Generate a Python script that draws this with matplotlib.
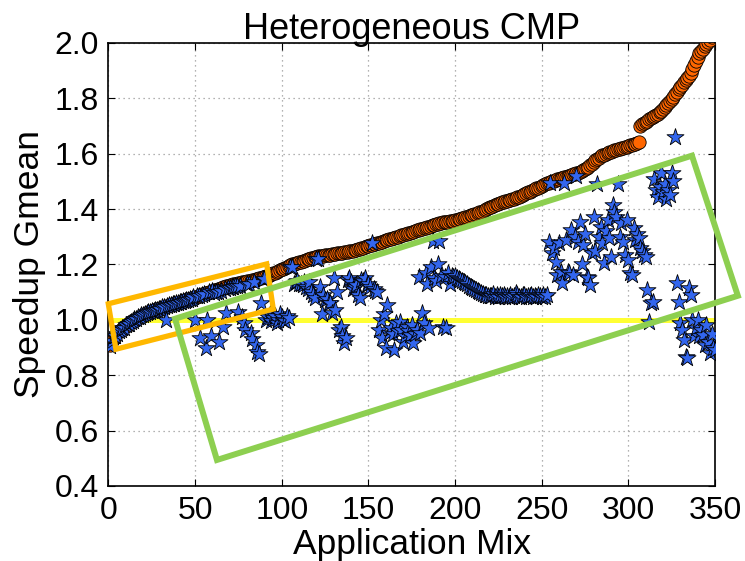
import matplotlib
matplotlib.use('Agg')
import matplotlib.pyplot as plt
from matplotlib.patches import Polygon

plt.rcParams['font.family'] = ['Liberation Sans', 'DejaVu Sans']

# ---------------- data ----------------
mix_index = list(range(1, 351))

# sorted speedup (orange circles)
speedup_sorted = [
    0.910, 0.925, 0.935, 0.945, 0.952, 0.958, 0.963, 0.968, 0.973, 0.978,
    0.983, 0.988, 0.992, 0.996, 1.000, 1.004, 1.008, 1.012, 1.015, 1.018,
    1.021, 1.024, 1.027, 1.030, 1.032, 1.034, 1.036, 1.038, 1.040, 1.042,
    1.044, 1.046, 1.048, 1.050, 1.052, 1.054, 1.056, 1.058, 1.060, 1.062,
    1.064, 1.066, 1.068, 1.070, 1.072, 1.074, 1.076, 1.078, 1.080, 1.082,
    1.084, 1.087, 1.090, 1.092, 1.094, 1.096, 1.098, 1.100, 1.102, 1.104,
    1.107, 1.109, 1.111, 1.113, 1.115, 1.117, 1.119, 1.121, 1.123, 1.125,
    1.127, 1.129, 1.130, 1.131, 1.132, 1.134, 1.135, 1.137, 1.138, 1.140,
    1.141, 1.142, 1.143, 1.145, 1.146, 1.148, 1.150, 1.152, 1.154, 1.156,
    1.158, 1.160, 1.162, 1.165, 1.168, 1.170, 1.173, 1.176, 1.179, 1.182,
    1.185, 1.188, 1.191, 1.194, 1.197, 1.200, 1.202, 1.204, 1.206, 1.208,
    1.210, 1.212, 1.214, 1.216, 1.218, 1.220, 1.222, 1.224, 1.226, 1.228,
    1.229, 1.230, 1.231, 1.232, 1.233, 1.234, 1.235, 1.236, 1.237, 1.238,
    1.239, 1.240, 1.241, 1.242, 1.243, 1.244, 1.245, 1.246, 1.247, 1.248,
    1.249, 1.251, 1.253, 1.255, 1.257, 1.259, 1.261, 1.263, 1.265, 1.267,
    1.269, 1.271, 1.273, 1.275, 1.277, 1.279, 1.281, 1.283, 1.285, 1.287,
    1.289, 1.291, 1.293, 1.295, 1.297, 1.299, 1.301, 1.303, 1.305, 1.307,
    1.309, 1.311, 1.313, 1.315, 1.317, 1.319, 1.321, 1.323, 1.325, 1.327,
    1.329, 1.331, 1.333, 1.335, 1.337, 1.339, 1.341, 1.343, 1.345, 1.347,
    1.349, 1.351, 1.352, 1.353, 1.354, 1.355, 1.356, 1.357, 1.358, 1.359,
    1.361, 1.363, 1.365, 1.367, 1.369, 1.371, 1.373, 1.375, 1.377, 1.379,
    1.381, 1.383, 1.385, 1.388, 1.391, 1.394, 1.397, 1.400, 1.403, 1.406,
    1.409, 1.412, 1.415, 1.418, 1.420, 1.422, 1.424, 1.426, 1.428, 1.430,
    1.432, 1.434, 1.436, 1.438, 1.440, 1.442, 1.445, 1.448, 1.451, 1.454,
    1.457, 1.460, 1.463, 1.466, 1.469, 1.472, 1.475, 1.478, 1.481, 1.484,
    1.487, 1.490, 1.493, 1.496, 1.499, 1.501, 1.503, 1.505, 1.507, 1.509,
    1.511, 1.513, 1.515, 1.517, 1.519, 1.521, 1.523, 1.525, 1.527, 1.529,
    1.531, 1.534, 1.537, 1.540, 1.544, 1.548, 1.553, 1.558, 1.564, 1.570,
    1.576, 1.581, 1.586, 1.590, 1.594, 1.597, 1.600, 1.603, 1.606, 1.608,
    1.610, 1.612, 1.614, 1.616, 1.618, 1.620, 1.622, 1.624, 1.626, 1.628,
    1.630, 1.632, 1.634, 1.636, 1.638, 1.642, 1.700, 1.706, 1.712, 1.716,
    1.720, 1.724, 1.728, 1.732, 1.736, 1.740, 1.745, 1.750, 1.756, 1.762,
    1.768, 1.775, 1.782, 1.790, 1.798, 1.806, 1.815, 1.824, 1.833, 1.842,
    1.850, 1.858, 1.866, 1.874, 1.882, 1.892, 1.905, 1.920, 1.935, 1.950,
    1.962, 1.972, 1.980, 1.988, 1.995, 2.002, 2.010, 2.020, 2.035, 2.050,
]

# heterogeneous CMP speedup for the same mixes (blue stars)
speedup_hetero = [
    0.905, 0.925, 0.940, 0.942, 0.950, 0.960, 0.962, 0.970, 0.972, 0.980,
    0.985, 0.986, 0.993, 0.995, 1.002, 1.003, 1.009, 1.011, 1.016, 1.017,
    1.022, 1.023, 1.028, 1.029, 1.033, 1.033, 1.037, 1.037, 1.041, 1.041,
    1.045, 1.045, 1.000, 1.050, 1.053, 1.053, 1.057, 1.057, 1.061, 1.061,
    1.065, 1.065, 1.069, 1.069, 1.073, 1.073, 1.077, 1.077, 1.081, 1.000,
    1.085, 1.086, 0.935, 1.091, 1.095, 0.900, 1.000, 1.099, 0.940, 1.103,
    1.098, 1.100, 1.102, 0.920, 1.106, 0.975, 1.110, 1.025, 1.114, 1.116,
    1.118, 1.120, 1.121, 1.122, 1.030, 1.124, 1.010, 0.990, 0.964, 1.130,
    1.131, 0.953, 0.930, 1.135, 0.910, 0.885, 0.875, 1.060, 1.146, 1.148,
    1.000, 1.010, 1.020, 0.995, 1.005, 1.015, 0.990, 1.000, 1.020, 1.010,
    1.000, 0.995, 1.015, 1.005, 1.190, 1.190, 1.130, 1.135, 1.140, 1.130,
    1.130, 1.125, 1.137, 1.120, 1.110, 1.137, 1.100, 1.090, 1.080, 1.220,
    1.220, 1.120, 1.020, 1.090, 1.070, 1.075, 1.060, 1.060, 1.025, 1.150,
    1.035, 1.100, 0.964, 0.975, 0.940, 0.917, 0.935, 1.145, 1.150, 1.137,
    1.110, 1.120, 1.126, 1.090, 1.080, 1.145, 1.140, 1.150, 1.126, 1.130,
    1.120, 1.278, 1.110, 1.105, 1.100, 0.964, 1.000, 0.935, 1.020, 0.900,
    1.054, 0.953, 0.970, 0.950, 0.890, 0.990, 0.960, 0.993, 0.964, 0.920,
    0.940, 0.975, 0.960, 0.946, 0.980, 0.917, 0.950, 0.964, 1.155, 0.953,
    1.025, 0.990, 1.170, 1.130, 0.970, 1.190, 1.285, 1.150, 1.140, 1.200,
    1.285, 1.160, 0.975, 1.155, 0.970, 1.170, 1.130, 1.160, 1.155, 1.160,
    1.150, 1.147, 1.143, 1.140, 1.136, 1.132, 1.128, 1.124, 1.120, 1.116,
    1.112, 1.108, 1.104, 1.100, 1.097, 1.094, 1.091, 1.089, 1.087, 1.086,
    1.085, 1.092, 1.084, 1.090, 1.083, 1.088, 1.085, 1.091, 1.082, 1.087,
    1.084, 1.090, 1.083, 1.086, 1.098, 1.088, 1.084, 1.082, 1.089, 1.091,
    1.083, 1.087, 1.085, 1.090, 1.082, 1.086, 1.084, 1.089, 1.087, 1.083,
    1.088, 1.084, 1.090, 1.280, 1.495, 1.240, 1.260, 1.210, 1.163, 1.277,
    1.174, 1.134, 1.495, 1.290, 1.174, 1.170, 1.325, 1.163, 1.300, 1.520,
    1.280, 1.355, 1.200, 1.270, 1.310, 1.155, 1.150, 1.126, 1.240, 1.370,
    1.250, 1.490, 1.300, 1.336, 1.277, 1.205, 1.320, 1.360, 1.296, 1.228,
    1.415, 1.390, 1.370, 1.490, 1.300, 1.350, 1.280, 1.235, 1.360, 1.217,
    1.170, 1.163, 1.330, 1.290, 1.310, 1.296, 1.260, 1.250, 1.235, 1.228,
    1.108, 0.993, 1.060, 1.065, 1.510, 1.470, 1.445, 1.480, 1.530, 1.460,
    1.490, 1.435, 1.470, 1.450, 1.530, 1.500, 1.660, 1.134, 1.065, 0.990,
    0.964, 0.928, 0.867, 0.862, 1.115, 1.090, 1.000, 0.940, 0.970, 1.000,
    0.940, 0.964, 0.946, 0.910, 0.980, 0.920, 0.880, 0.950, 0.900, 0.890,
]

baseline = 1.0
x_ticks = [0, 50, 100, 150, 200, 250, 300, 350]
y_ticks = [0.4, 0.6, 0.8, 1.0, 1.2, 1.4, 1.6, 1.8, 2.0]

# highlight boxes (data coordinates of the corners)
box_small = [(-0.1, 1.058), (91.3, 1.202), (95.1, 1.039), (4.3, 0.894)]
box_large = [(38.4, 1.004), (336.7, 1.593), (363.2, 1.087), (62.6, 0.494)]

# ---------------- plot ----------------
fig = plt.figure(figsize=(7.45, 5.61), dpi=100)
ax = fig.add_axes([0.1456, 0.1337, 0.8141, 0.7897])

ax.plot([0, 350], [baseline, baseline], color='#FFFF33', lw=3.6, zorder=2)
ax.scatter(mix_index, speedup_sorted, s=92, marker='o', facecolor='#FF6600',
           edgecolor='black', linewidths=0.6, zorder=3)
ax.scatter(mix_index, speedup_hetero, s=165, marker='*', facecolor='#3366EE',
           edgecolor='black', linewidths=0.6, zorder=4)

ax.add_patch(Polygon(box_small, closed=True, fill=False, edgecolor='#FFB800',
                     lw=3.8, clip_on=False, zorder=6, joinstyle='miter'))
ax.add_patch(Polygon(box_large, closed=True, fill=False, edgecolor='#8DCF50',
                     lw=4.3, clip_on=False, zorder=6, joinstyle='miter'))

ax.set_xlim(0, 350)
ax.set_ylim(0.4, 2.0)
ax.set_xticks(x_ticks)
ax.set_yticks(y_ticks)
ax.set_yticklabels([f'{v:.1f}' for v in y_ticks])
ax.tick_params(direction='in', length=5, width=0.8, top=True, right=True,
               labelsize=23, pad=7)
ax.grid(True, color='#999999', linestyle=(0, (1, 3)), lw=0.9)
ax.set_axisbelow(True)
for sp in ax.spines.values():
    sp.set_linewidth(1.2)

ax.set_title('Heterogeneous CMP', fontsize=26, pad=3)
ax.set_xlabel('Application Mix', fontsize=25.5, labelpad=2)
ax.set_ylabel('Speedup Gmean', fontsize=25.5, labelpad=6)

fig.savefig('out.png', dpi=100)
